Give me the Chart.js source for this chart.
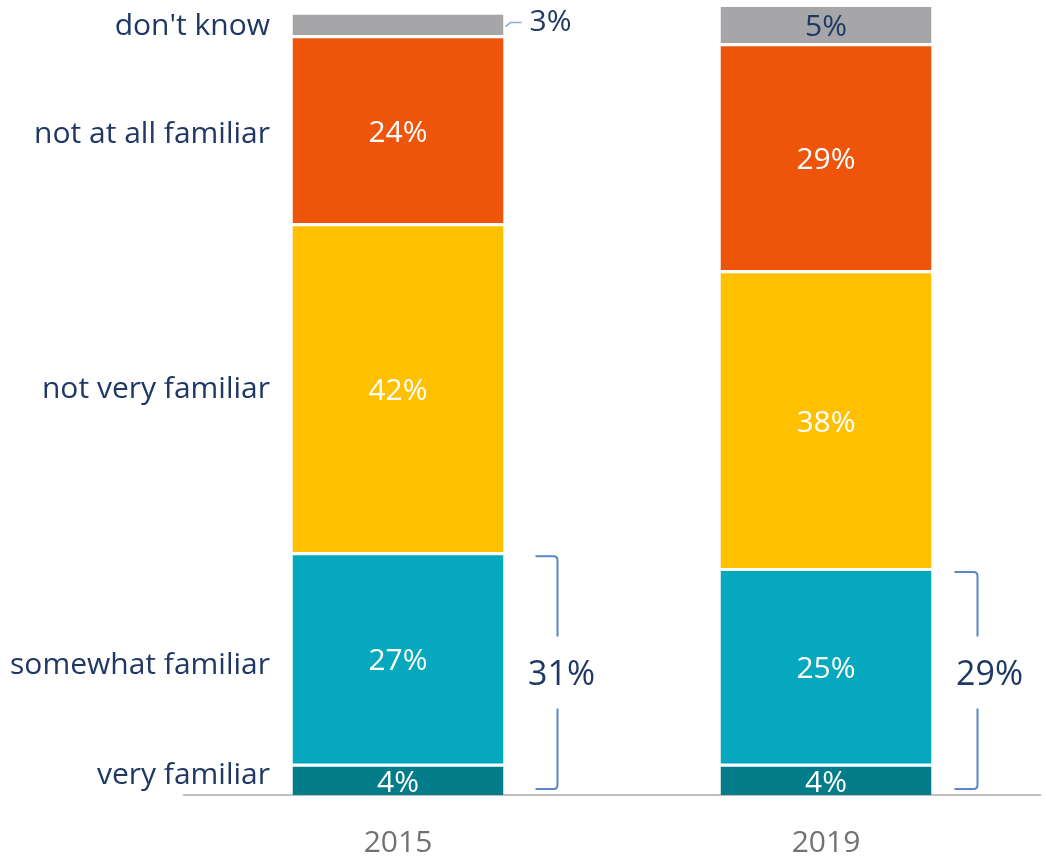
<!DOCTYPE html>
<html>
<head>
<meta charset="utf-8">
<script src="https://cdn.jsdelivr.net/npm/chart.js@4.4.1/dist/chart.umd.min.js"></script>
<style>
  html, body { margin: 0; padding: 0; background: #ffffff; }
  #wrap { width: 1046px; height: 859px; position: relative; }
</style>
</head>
<body>
<div id="wrap"><canvas id="c" width="1046" height="859"></canvas></div>
<script>
// ---- data ----
const years = ['2015', '2019'];
const seriesNames = ['very familiar', 'somewhat familiar', 'not very familiar', 'not at all familiar', "don't know"];
const veryFamiliar = [4, 4];
const somewhatFamiliar = [27, 25];
const notVeryFamiliar = [42, 38];
const notAtAllFamiliar = [24, 29];
const dontKnow = [3, 5];

const seriesValues = [veryFamiliar, somewhatFamiliar, notVeryFamiliar, notAtAllFamiliar, dontKnow];
const seriesColors = ['#027C89', '#05A8BC', '#FFC000', '#EE550B', '#A6A6A9'];
const NAVY = '#1F3864';
const FONT = '"Open Sans", "Noto Sans", sans-serif';

const datasets = seriesNames.map((name, i) => ({
  label: name,
  data: seriesValues[i],
  backgroundColor: seriesColors[i],
  borderColor: '#ffffff',
  borderWidth: {top: 3, left: 0, right: 0, bottom: 0},
  borderSkipped: false,
  barPercentage: 1.0,
  categoryPercentage: 0.493
}));

const overlay = {
  id: 'overlay',
  afterDatasetsDraw(chart) {
    const ctx = chart.ctx;
    const area = chart.chartArea;
    const y = chart.scales.y;
    ctx.save();

    // data labels
    chart.data.datasets.forEach((ds, di) => {
      const meta = chart.getDatasetMeta(di);
      meta.data.forEach((bar, ci) => {
        const v = ds.data[ci];
        const top = bar.y, bottom = bar.base;
        const cy = (top + bottom) / 2;
        const right = bar.x + bar.width / 2;
        ctx.font = '30px ' + FONT;
        ctx.textBaseline = 'middle';
        if (di === 4 && ci === 0) {
          ctx.strokeStyle = '#8EA9DB';
          ctx.lineWidth = 1.5;
          ctx.beginPath();
          ctx.moveTo(right + 2, cy + 3);
          ctx.lineTo(right + 7, cy - 1);
          ctx.lineTo(right + 18, cy - 1);
          ctx.stroke();
          ctx.fillStyle = NAVY;
          ctx.textAlign = 'left';
          ctx.fillText(v + '%', right + 26, cy - 1);
        } else {
          ctx.save();
          ctx.beginPath();
          ctx.rect(area.left, area.top - 10, area.width, area.bottom - area.top + 10);
          ctx.clip();
          ctx.fillStyle = di === 4 ? NAVY : '#ffffff';
          ctx.textAlign = 'center';
          ctx.fillText(v + '%', bar.x, cy + (di === 0 ? 4 : 4));
          ctx.restore();
        }
      });
    });

    // left series labels next to first bar
    const leftOffsets = [-4, 8, 2, 5, 3];
    ctx.font = '30px ' + FONT;
    ctx.fillStyle = NAVY;
    ctx.textAlign = 'right';
    ctx.textBaseline = 'middle';
    chart.data.datasets.forEach((ds, di) => {
      const bar = chart.getDatasetMeta(di).data[0];
      const cy = (bar.y + bar.base) / 2 + leftOffsets[di];
      ctx.fillText(ds.label, 270, cy);
    });

    // brackets with totals of very + somewhat
    const bracketStyle = [{x0: 32, x1: 54}, {x0: 23, x1: 46}];
    years.forEach((yr, ci) => {
      const bar = chart.getDatasetMeta(1).data[ci];
      const total = veryFamiliar[ci] + somewhatFamiliar[ci];
      const right = bar.x + bar.width / 2;
      const x0 = right + bracketStyle[ci].x0;
      const x1 = right + bracketStyle[ci].x1;
      const top = y.getPixelForValue(total) + 4;
      const bottom = area.bottom - 6;
      const mid = (top + bottom) / 2 - (ci === 1 ? 8 : 0);
      const gap = 36;
      ctx.strokeStyle = '#5B86C5';
      ctx.lineWidth = 2;
      ctx.beginPath();
      ctx.moveTo(x0, top);
      ctx.lineTo(x1 - 4, top);
      ctx.quadraticCurveTo(x1, top, x1, top + 4);
      ctx.lineTo(x1, mid - gap);
      ctx.moveTo(x1, mid + gap);
      ctx.lineTo(x1, bottom - 4);
      ctx.quadraticCurveTo(x1, bottom, x1 - 4, bottom);
      ctx.lineTo(x0, bottom);
      ctx.stroke();
      ctx.font = '34px ' + FONT;
      ctx.fillStyle = NAVY;
      ctx.textAlign = 'center';
      ctx.textBaseline = 'middle';
      ctx.fillText(total + '%', right + 58, mid + 3);
    });
    ctx.restore();
  }
};

new Chart(document.getElementById('c'), {
  type: 'bar',
  data: { labels: years, datasets: datasets },
  options: {
    responsive: false,
    animation: false,
    layout: { padding: { left: 184, right: 6, top: 4, bottom: 0 } },
    plugins: { legend: { display: false }, tooltip: { enabled: false } },
    scales: {
      x: {
        stacked: true,
        grid: { display: false },
        border: { display: true, color: '#BFBFBF', width: 2 },
        ticks: { color: '#767171', font: { family: FONT, size: 30 }, padding: 22 },
        afterFit(scale) { scale.height = 64; }
      },
      y: {
        stacked: true,
        display: false,
        min: 0,
        max: 101
      }
    }
  },
  plugins: [overlay]
});
</script>
</body>
</html>
